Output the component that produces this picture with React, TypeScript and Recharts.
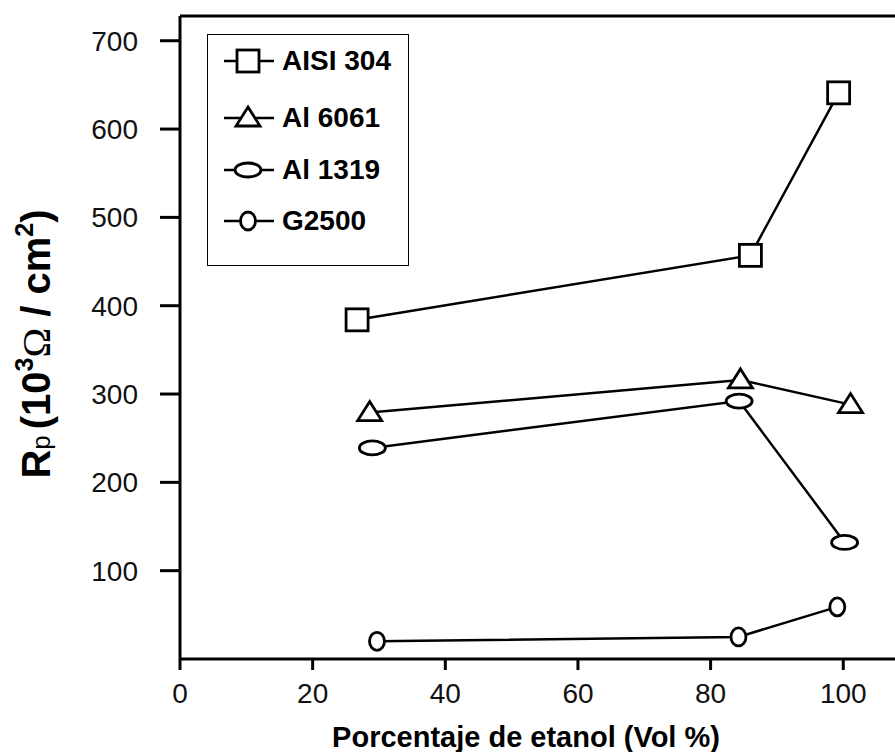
import { Legend, Line, LineChart, ReferenceLine, XAxis, YAxis } from 'recharts'

// % etanol (Vol %) y Rp (10^3 ohm/cm2) por aleación
const X_AISI304 = [26.7, 86.0, 99.3]
const Y_AISI304 = [384, 457, 641]
const X_AL6061 = [28.6, 84.5, 101.1]
const Y_AL6061 = [279, 316, 288]
const X_AL1319 = [29.0, 84.3, 100.2]
const Y_AL1319 = [239, 292, 132]
const X_G2500 = [29.7, 84.2, 99.1]
const Y_G2500 = [20, 25, 59]

const X_TICKS = [0, 20, 40, 60, 80, 100]
const Y_TICKS = [100, 200, 300, 400, 500, 600, 700]
const Y_MAX = 728

const SERIES_NAMES = ['AISI 304', 'Al 6061', 'Al 1319', 'G2500']

const FONT = '"Liberation Sans", Arial, Helvetica, sans-serif'
const INK = '#000'

type Shape = 'square' | 'triangle' | 'ellipse' | 'circle'
const SHAPES: Shape[] = ['square', 'triangle', 'ellipse', 'circle']

const toRows = (xs: number[], ys: number[]) => xs.map((x, i) => ({ x, y: ys[i] }))

const series = [
  toRows(X_AISI304, Y_AISI304),
  toRows(X_AL6061, Y_AL6061),
  toRows(X_AL1319, Y_AL1319),
  toRows(X_G2500, Y_G2500),
]

function Marker({ shape, cx, cy }: { shape: Shape; cx: number; cy: number }) {
  const common = { fill: '#fff', stroke: INK, strokeWidth: 2.8 }
  if (shape === 'square') return <rect x={cx - 11} y={cy - 11} width={22} height={22} {...common} />
  if (shape === 'triangle')
    return <polygon points={`${cx},${cy - 11} ${cx + 12},${cy + 8} ${cx - 12},${cy + 8}`} {...common} />
  if (shape === 'ellipse') return <ellipse cx={cx} cy={cy} rx={13} ry={7} {...common} />
  return <ellipse cx={cx} cy={cy} rx={7.5} ry={9} {...common} />
}

const dotFor = (shape: Shape) => (p: any) => (
  <Marker key={`${shape}-${p.index}`} shape={shape} cx={p.cx} cy={p.cy} />
)

function LegendBox() {
  const centers = [26, 83, 135, 186]
  return (
    <div
      style={{
        width: 202,
        height: 232,
        border: `1.5px solid ${INK}`,
        boxSizing: 'border-box',
        position: 'relative',
        background: '#fff',
        fontFamily: FONT,
      }}
    >
      {SERIES_NAMES.map((name, i) => (
        <div
          key={name}
          style={{ position: 'absolute', left: 8, top: centers[i] - 15, height: 30, display: 'flex', alignItems: 'center' }}
        >
          <svg width={66} height={30}>
            <line x1={8} y1={15} x2={58} y2={15} stroke={INK} strokeWidth={2.5} />
            <Marker shape={SHAPES[i]} cx={32} cy={15} />
          </svg>
          <span style={{ fontSize: 28, fontWeight: 'bold', color: INK }}>{name}</span>
        </div>
      ))}
    </div>
  )
}

const yLabel = () => (
  <text
    transform="rotate(-90)"
    x={-344}
    y={50}
    textAnchor="middle"
    fontFamily={FONT}
    fontWeight="bold"
    fontSize={40}
    fill={INK}
  >
    <tspan>R</tspan>
    <tspan fontSize={26} fontWeight="normal">p</tspan>
    <tspan dx={6}>(10</tspan>
    <tspan fontSize={25} dy={-17}>3</tspan>
    <tspan dy={17} fontFamily='"Liberation Serif", "Times New Roman", serif' fontWeight="normal">Ω</tspan>
    <tspan> / cm</tspan>
    <tspan fontSize={25} dy={-17}>2</tspan>
    <tspan dy={17}>)</tspan>
  </text>
)

const xLabel = () => (
  <text x={526} y={747} textAnchor="middle" fontFamily={FONT} fontWeight="bold" fontSize={29} fill={INK}>
    Porcentaje de etanol (Vol %)
  </text>
)

export default function App() {
  return (
    <div style={{ position: 'absolute', left: 0, top: 0, width: 895, height: 752, background: '#fff' }}>
      <LineChart width={895} height={752} margin={{ top: 16, right: 0, left: 0, bottom: 0 }}>
        <XAxis
          dataKey="x"
          type="number"
          domain={[0, 107.8]}
          ticks={X_TICKS}
          height={93}
          tickSize={11}
          tickMargin={13}
          tick={{ fill: '#111', fontSize: 28, fontFamily: FONT }}
          tickLine={{ stroke: INK, strokeWidth: 3 }}
          axisLine={{ stroke: INK, strokeWidth: 3 }}
          label={xLabel}
        />
        <YAxis
          type="number"
          domain={[0, Y_MAX]}
          ticks={Y_TICKS}
          width={180}
          tickSize={20}
          tickMargin={22}
          tick={{ fill: '#111', fontSize: 28, fontFamily: FONT }}
          tickLine={{ stroke: INK, strokeWidth: 3 }}
          axisLine={{ stroke: INK, strokeWidth: 3 }}
          label={yLabel}
        />
        <ReferenceLine y={Y_MAX} stroke={INK} strokeWidth={3} />
        <Legend
          layout="vertical"
          align="center"
          verticalAlign="middle"
          wrapperStyle={{ left: 207, top: 34, width: 202, height: 232 }}
          content={() => <LegendBox />}
        />
        {series.map((rows, i) => (
          <Line
            key={SERIES_NAMES[i]}
            data={rows}
            dataKey="y"
            name={SERIES_NAMES[i]}
            stroke={INK}
            strokeWidth={2.5}
            dot={dotFor(SHAPES[i])}
            activeDot={false}
            isAnimationActive={false}
          />
        ))}
      </LineChart>
    </div>
  )
}
